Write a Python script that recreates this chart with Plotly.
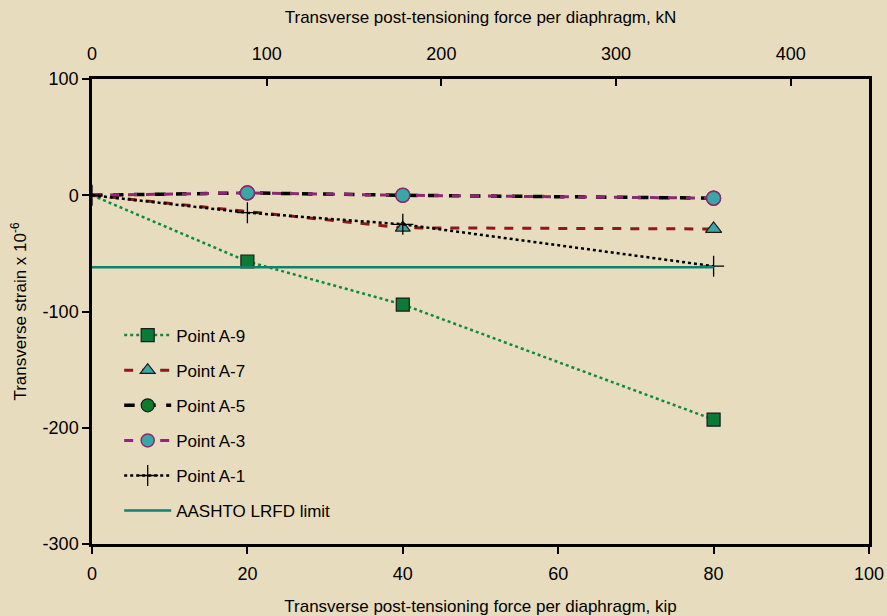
import plotly.graph_objects as go

force_kip = [0, 20, 40, 80]
a9 = [0, -57, -94, -193]
a7 = [0, -14, -28, -29]
a5 = [0, 2, 0, -2.5]
a3 = [0, 2, 0, -2.5]
a1 = [0, -15, -25, -61]
limit_x = [0, 80]
limit_y = [-62, -62]
kn_per_kip = 4.448
kip_ticks = [0, 20, 40, 60, 80, 100]
kn_ticks = [0, 100, 200, 300, 400]
strain_ticks = [-300, -200, -100, 0, 100]
strain_labels = ["-300", "-200", "-100", "0", "100"]

BG = "#E8DCBF"
FONT = "Liberation Sans, Arial, sans-serif"

series = [
    dict(name="Point A-9", y=a9, line=dict(color="#0E8A3E", width=2.5, dash="dot"),
         sym="square", col="#0B7A36", mline=dict(color="#1a1a1a", width=1.2), size=13,
         sizes=[0, 13, 13, 13]),
    dict(name="Point A-7", y=a7, line=dict(color="#8B1A1A", width=3, dash="dash"),
         sym="triangle-up", col="#3AA6A6", mline=dict(color="#1a1a1a", width=1.2), size=13,
         sizes=[0, 0, 13, 14]),
    dict(name="Point A-5", y=a5, line=dict(color="#000000", width=3.5, dash="dash"),
         sym="circle", col="#0E7A2E", mline=dict(color="#1a1a1a", width=1.2), size=13,
         sizes=[0, 14, 14, 14]),
    dict(name="Point A-3", y=a3, line=dict(color="#8A2A72", width=3, dash="dash"),
         sym="circle", col="#3AA6A6", mline=dict(color="#8A2A72", width=1.5), size=13,
         sizes=[0, 14, 14, 14]),
    dict(name="Point A-1", y=a1, line=dict(color="#000000", width=2.5, dash="dot"),
         sym="cross-thin", col="#000000", mline=dict(color="#000000", width=1.3), size=15,
         sizes=[15, 15, 15, 15]),
]

fig = go.Figure()
for i, s in enumerate(series):
    g = f"g{i}"
    # data trace
    fig.add_trace(go.Scatter(x=force_kip, y=s["y"], name=s["name"], mode="lines+markers",
        line=s["line"], showlegend=False, legendgroup=g,
        marker=dict(symbol=s["sym"], size=s["sizes"], color=s["col"], line=s["mline"], opacity=1)))
    # legend entry
    fig.add_trace(go.Scatter(x=[None], y=[None], name=s["name"], mode="lines+markers",
        line=s["line"], showlegend=True, legendgroup=g,
        marker=dict(symbol=s["sym"], size=s["size"], color=s["col"], line=s["mline"])))

fig.add_trace(go.Scatter(x=limit_x, y=limit_y, name="AASHTO LRFD limit", mode="lines",
    line=dict(color="#128070", width=2.5), legendgroup="g9"))
# invisible trace for top kN axis
fig.add_trace(go.Scatter(x=[0, 100 * kn_per_kip], y=[None, None], xaxis="x2", mode="lines",
    showlegend=False, hoverinfo="skip"))

fig.update_layout(
    width=887, height=616,
    paper_bgcolor=BG, plot_bgcolor=BG,
    font=dict(family=FONT, size=18, color="#000000"),
    margin=dict(l=92, r=18, t=79, b=72),
    showlegend=True,
    legend=dict(x=0.035, y=0.487, xanchor="left", yanchor="top", bgcolor="rgba(0,0,0,0)",
                font=dict(family=FONT, size=17), itemwidth=47, tracegroupgap=10,
                traceorder="grouped"),
    xaxis=dict(range=[0, 100], tickvals=kip_ticks, showgrid=False, zeroline=False,
               showline=True, linecolor="#000", linewidth=2.5, mirror=True, automargin=False,
               ticks="outside", ticklen=7, tickwidth=2, tickcolor="#000", ticklabelstandoff=5,
               title=dict(text="Transverse post-tensioning force per diaphragm, kip", standoff=20,
                          font=dict(size=17))),
    xaxis2=dict(range=[0, 100 * kn_per_kip], overlaying="x", side="top", anchor="y",
                tickvals=kn_ticks, showgrid=False, zeroline=False, showline=False, automargin=False,
                ticks="inside", ticklen=7, tickwidth=2, tickcolor="#000", ticklabelstandoff=14,
                title=dict(text="Transverse post-tensioning force per diaphragm, kN", standoff=16,
                           font=dict(size=17))),
    yaxis=dict(range=[-300, 100], tickvals=strain_ticks, ticktext=strain_labels, showgrid=False,
               zeroline=False, showline=True, linecolor="#000", linewidth=2.5, mirror=True,
               automargin=False,
               ticks="outside", ticklen=7, tickwidth=2, tickcolor="#000",
               title=dict(text="Transverse strain x 10<sup>-6</sup>", standoff=12, font=dict(size=17))),
)

fig.write_html("out.html")
